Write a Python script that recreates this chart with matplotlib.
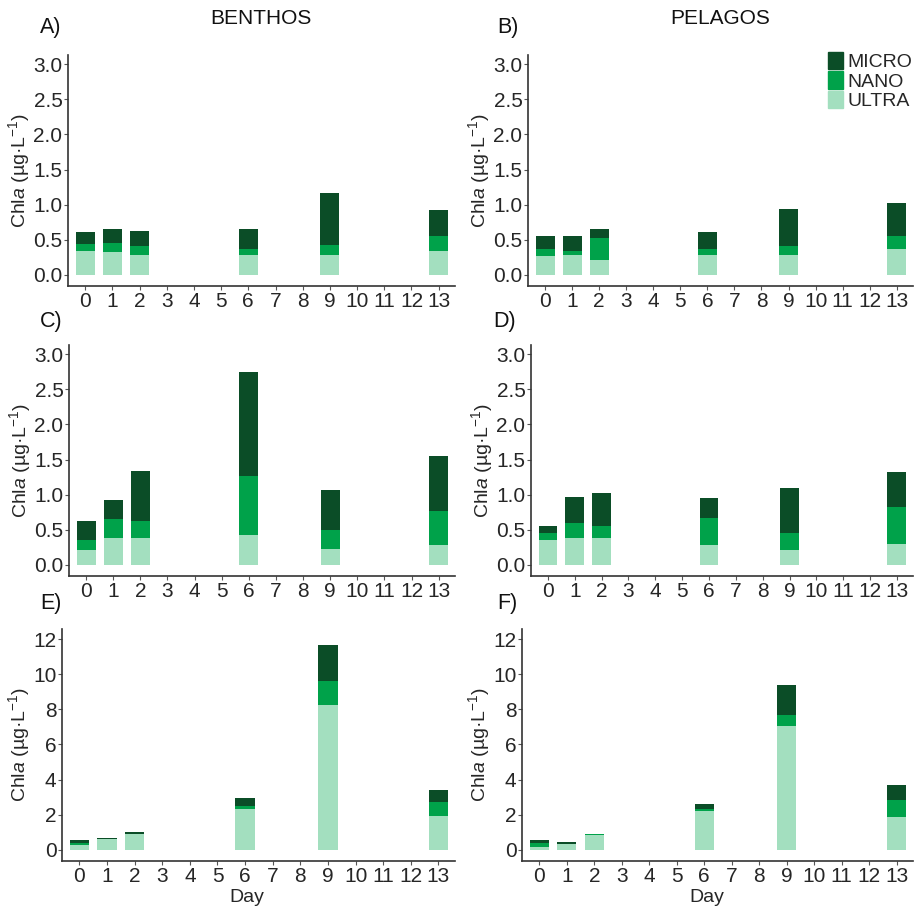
import matplotlib
matplotlib.use("Agg")
import matplotlib.pyplot as plt
from matplotlib.patches import Patch
import numpy as np

plt.rcParams["font.family"] = ["Liberation Sans", "DejaVu Sans"]
plt.rcParams["mathtext.fontset"] = "custom"
plt.rcParams["mathtext.rm"] = "Liberation Sans"
plt.rcParams["mathtext.it"] = "Liberation Sans:italic"

# categories on the x axis
day_labels = [str(d) for d in range(14)]
sample_days = [0, 1, 2, 6, 9, 13]

# size fractions (Chl a, ug/L) per panel: ultra, nano, micro
ultra_A = [0.34, 0.32, 0.28, 0.28, 0.29, 0.34]
nano_A = [0.10, 0.14, 0.13, 0.09, 0.13, 0.22]
micro_A = [0.17, 0.20, 0.21, 0.29, 0.74, 0.36]

ultra_B = [0.27, 0.28, 0.22, 0.28, 0.28, 0.37]
nano_B = [0.10, 0.06, 0.31, 0.09, 0.13, 0.18]
micro_B = [0.19, 0.21, 0.12, 0.24, 0.53, 0.47]

ultra_C = [0.21, 0.39, 0.38, 0.42, 0.23, 0.29]
nano_C = [0.14, 0.27, 0.24, 0.84, 0.27, 0.48]
micro_C = [0.28, 0.26, 0.71, 1.48, 0.56, 0.78]

ultra_D = [0.35, 0.39, 0.39, 0.28, 0.22, 0.30]
nano_D = [0.10, 0.21, 0.16, 0.39, 0.23, 0.52]
micro_D = [0.11, 0.37, 0.48, 0.29, 0.65, 0.50]

ultra_E = [0.27, 0.61, 0.89, 2.33, 8.23, 1.91]
nano_E = [0.13, 0.02, 0.04, 0.19, 1.36, 0.80]
micro_E = [0.17, 0.03, 0.07, 0.42, 2.09, 0.72]

ultra_F = [0.19, 0.32, 0.87, 2.24, 7.03, 1.86]
nano_F = [0.21, 0.04, 0.02, 0.07, 0.65, 0.96]
micro_F = [0.17, 0.09, 0.04, 0.31, 1.69, 0.88]

col_micro = "#0b4d27"
col_nano = "#00a24a"
col_ultra = "#a3dfbf"
txt_col = "#262626"

W, H = 914, 908
fig = plt.figure(figsize=(W / 100, H / 100), dpi=100)


def px_axes(left, right, top, bottom):
    return fig.add_axes([left / W, 1 - bottom / H, (right - left) / W, (bottom - top) / H])


panels = [
    ("A)", px_axes(68, 455, 55, 286), ultra_A, nano_A, micro_A, "small", (40, 27)),
    ("B)", px_axes(528, 913, 55, 286), ultra_B, nano_B, micro_B, "small", (497, 27)),
    ("C)", px_axes(69, 455, 345, 576), ultra_C, nano_C, micro_C, "small", (40, 322)),
    ("D)", px_axes(531, 913, 345, 576), ultra_D, nano_D, micro_D, "small", (493, 322)),
    ("E)", px_axes(62, 455, 629, 861), ultra_E, nano_E, micro_E, "big", (40, 604)),
    ("F)", px_axes(522, 913, 629, 861), ultra_F, nano_F, micro_F, "big", (497, 604)),
]

for letter, ax, ultra, nano, micro, scale, (lx, ly) in panels:
    ultra = np.array(ultra)
    nano = np.array(nano)
    micro = np.array(micro)
    ax.bar(sample_days, ultra, width=0.7, color=col_ultra, label="ULTRA")
    ax.bar(sample_days, nano, width=0.7, bottom=ultra, color=col_nano, label="NANO")
    ax.bar(sample_days, micro, width=0.7, bottom=ultra + nano, color=col_micro, label="MICRO")

    ax.set_xlim(-0.63, 13.6)
    ax.set_xticks(range(14))
    ax.set_xticklabels(day_labels)
    if scale == "small":
        ax.set_ylim(-0.157, 3.13)
        ax.set_yticks([0, 0.5, 1.0, 1.5, 2.0, 2.5, 3.0])
        ax.set_yticklabels(["0.0", "0.5", "1.0", "1.5", "2.0", "2.5", "3.0"])
    else:
        ax.set_ylim(-0.63, 12.57)
        ax.set_yticks([0, 2, 4, 6, 8, 10, 12])

    for s in ["top", "right"]:
        ax.spines[s].set_visible(False)
    for s in ["left", "bottom"]:
        ax.spines[s].set_color("#333333")
        ax.spines[s].set_linewidth(1.2)
    ax.tick_params(axis="both", labelsize=15, colors="#555555", labelcolor=txt_col,
                   length=3, width=0.8, pad=1)
    ax.set_ylabel(r"Chl$\mathit{a}$ (µg·L$^{\mathregular{-1}}$)", fontsize=14,
                  color=txt_col, labelpad=1)
    fig.text(lx / W, 1 - ly / H, letter, fontsize=15.5, color="#111111",
             ha="left", va="center")

# legend in panel B
ax_b = panels[1][1]
handles = [Patch(color=col_micro), Patch(color=col_nano), Patch(color=col_ultra)]
ax_b.legend(handles, ["MICRO", "NANO", "ULTRA"], loc="upper right",
            bbox_to_anchor=(912 / W, 1 - 52 / H), bbox_transform=fig.transFigure,
            frameon=False, fontsize=14, handlelength=0.8, handleheight=1.0,
            labelspacing=0.0, handletextpad=0.2, borderpad=0, borderaxespad=0,
            labelcolor=txt_col)

fig.text(261 / W, 1 - 18 / H, "BENTHOS", fontsize=15, color="#111111", ha="center", va="center")
fig.text(720 / W, 1 - 18 / H, "PELAGOS", fontsize=15, color="#111111", ha="center", va="center")
fig.text(247 / W, 1 - 897 / H, "Day", fontsize=14, color=txt_col, ha="center", va="center")
fig.text(707 / W, 1 - 897 / H, "Day", fontsize=14, color=txt_col, ha="center", va="center")

fig.savefig("out.png", dpi=100)
